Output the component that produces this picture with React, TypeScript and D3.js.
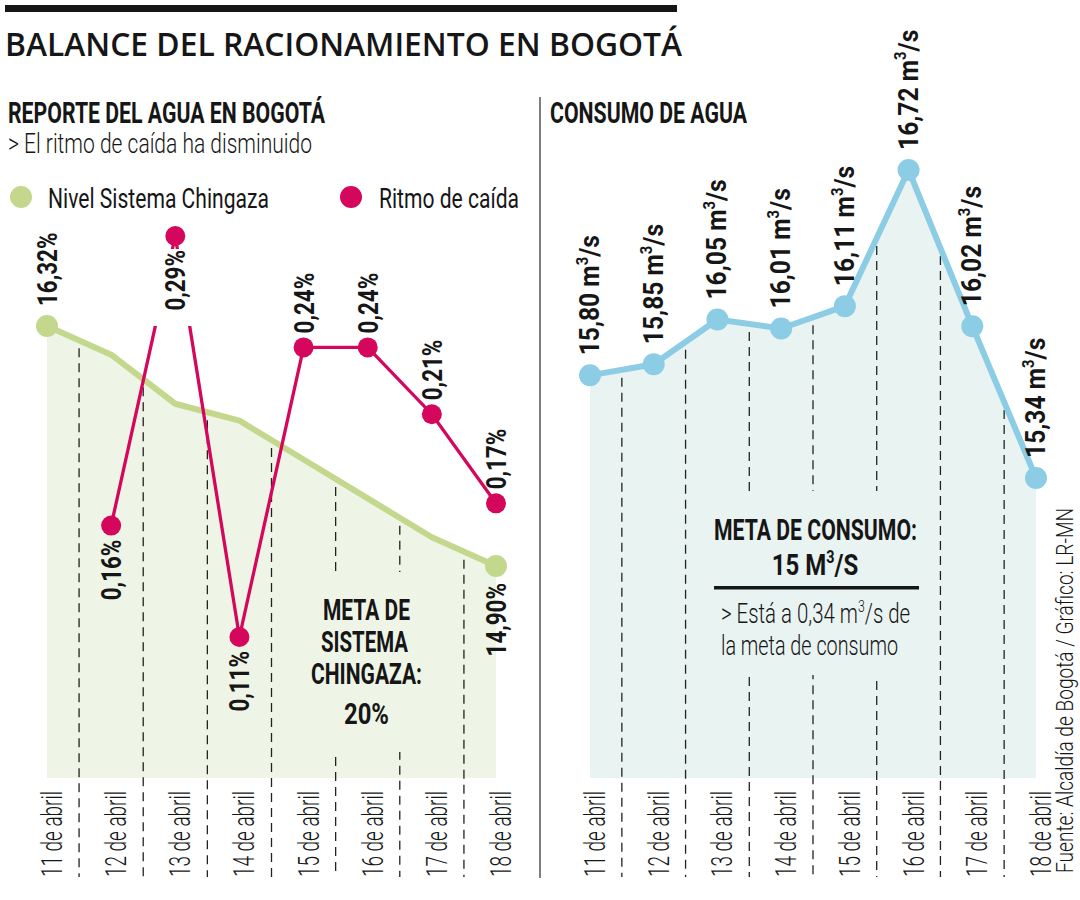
import React from "react";
import * as d3 from "d3";

// Datos
const dates = [
  "11 de abril",
  "12 de abril",
  "13 de abril",
  "14 de abril",
  "15 de abril",
  "16 de abril",
  "17 de abril",
  "18 de abril",
];
const nivelChingaza = [16.32, 16.15, 15.86, 15.76, 15.53, 15.3, 15.07, 14.9];
const ritmoDates = dates.slice(1);
const ritmoCaida = [0.16, 0.29, 0.11, 0.24, 0.24, 0.21, 0.17];
const consumo = [15.8, 15.85, 16.05, 16.01, 16.11, 16.72, 16.02, 15.34];

// label above (false) or below (true) each point
const ritmoBelow = [true, true, true, false, false, false, false];

const FONT = "Roboto, 'Liberation Sans', Arial, sans-serif";
const INK = "#161616";
const GREEN = "#c3d88d";
const GREEN_FILL = "#eff5e6";
const PINK = "#d4075c";
const BLUE = "#8ccde5";
const BLUE_FILL = "#e8f3f2";

const BASE = 778; // bottom of filled areas
const DASH_END = 877;

const xL = d3.scalePoint<string>().domain(dates).range([47, 496]);
const xR = d3.scalePoint<string>().domain(dates).range([590, 1036]);
const yNivel = d3.scaleLinear().domain([14.9, 16.32]).range([566, 326]);
const yRitmo = d3.scaleLinear().domain([0.11, 0.29]).range([637, 236]);
const yConsumo = d3.scaleLinear().domain([15.34, 16.72]).range([478, 170]);

const fmt = (v: number) => d3.format(".2f")(v).replace(".", ",");

// rotated (bottom to top) text, condensed with scaleX
function VText({ x, y, anchor = "start", size, weight = 700, sx = 0.8, children, textLength }: any) {
  return (
    <text
      transform={`translate(${x},${y}) rotate(-90) scale(${sx},1)`}
      textAnchor={anchor}
      fontSize={size}
      fontWeight={weight}
      fontFamily={FONT}
      fill={INK}
      textLength={textLength}
      lengthAdjust={textLength ? "spacingAndGlyphs" : undefined}
    >
      {children}
    </text>
  );
}

function M3s({ size }: { size: number }) {
  return (
    <>
      {" m"}
      <tspan fontSize={size * 0.6} dy={-size * 0.4}>
        3
      </tspan>
      <tspan dy={size * 0.4}>/s</tspan>
    </>
  );
}

function dividers(x: d3.ScalePoint<string>, ys: number[]) {
  return dates.slice(0, -1).map((d, i) => {
    const mx = ((x(d) as number) + (x(dates[i + 1]) as number)) / 2;
    const top = (ys[i] + ys[i + 1]) / 2 + 8;
    return (
      <line
        key={d}
        x1={mx}
        x2={mx}
        y1={top}
        y2={DASH_END}
        stroke="#222"
        strokeWidth={1.3}
        strokeDasharray="9 6"
      />
    );
  });
}

export default function App() {
  const nivelY = nivelChingaza.map((v) => yNivel(v));
  const consumoY = consumo.map((v) => yConsumo(v));

  const areaL = d3
    .area<number>()
    .x((_, i) => xL(dates[i]) as number)
    .y0(BASE)
    .y1((v) => yNivel(v));
  const lineL = d3
    .line<number>()
    .x((_, i) => xL(dates[i]) as number)
    .y((v) => yNivel(v));
  const lineRitmo = d3
    .line<number>()
    .x((_, i) => xL(ritmoDates[i]) as number)
    .y((v) => yRitmo(v));
  const areaR = d3
    .area<number>()
    .x((_, i) => xR(dates[i]) as number)
    .y0(BASE)
    .y1((v) => yConsumo(v));
  const lineR = d3
    .line<number>()
    .x((_, i) => xR(dates[i]) as number)
    .y((v) => yConsumo(v));

  const i13 = ritmoDates.indexOf("13 de abril");

  return (
    <svg width={1080} height={900} style={{ position: "absolute", left: 0, top: 0, background: "#fff" }}>
      {/* cabecera */}
      <rect x={5} y={5} width={672} height={7} fill={INK} />
      <text x={5} y={56} fontFamily="'Open Sans', Roboto, sans-serif" fontWeight={600} fontSize={32} fill={INK} textLength={677} lengthAdjust="spacingAndGlyphs">
        BALANCE DEL RACIONAMIENTO EN BOGOTÁ
      </text>

      {/* panel izquierdo */}
      <text x={8} y={123} fontFamily={FONT} fontWeight={700} fontSize={30} fill={INK} textLength={317} lengthAdjust="spacingAndGlyphs">
        REPORTE DEL AGUA EN BOGOTÁ
      </text>
      <text x={8} y={153} fontFamily={FONT} fontWeight={300} fontSize={27} fill={INK} textLength={304} lengthAdjust="spacingAndGlyphs">
        {"> El ritmo de caída ha disminuido"}
      </text>
      <circle cx={21} cy={197} r={11} fill={GREEN} />
      <text x={48} y={208} fontFamily={FONT} fontWeight={400} fontSize={28} fill={INK} textLength={221} lengthAdjust="spacingAndGlyphs">
        Nivel Sistema Chingaza
      </text>
      <circle cx={351} cy={197} r={11} fill={PINK} />
      <text x={379} y={208} fontFamily={FONT} fontWeight={400} fontSize={28} fill={INK} textLength={140} lengthAdjust="spacingAndGlyphs">
        Ritmo de caída
      </text>

      <path d={areaL(nivelChingaza) as string} fill={GREEN_FILL} />
      {dividers(xL, nivelY)}
      <rect x={300} y={572} width={132} height={180} fill={GREEN_FILL} />
      <path d={lineL(nivelChingaza) as string} fill="none" stroke={GREEN} strokeWidth={6} strokeLinejoin="round" />
      <circle cx={xL(dates[0])} cy={nivelY[0]} r={11} fill={GREEN} />
      <circle cx={xL(dates[7])} cy={nivelY[7]} r={11} fill={GREEN} />
      <VText x={(xL(dates[0]) as number) + 10} y={nivelY[0] - 20} size={28}>
        {fmt(nivelChingaza[0])}%
      </VText>
      <VText x={(xL(dates[7]) as number) + 10} y={nivelY[7] + 17} size={28} anchor="end">
        {fmt(nivelChingaza[7])}%
      </VText>

      <path d={lineRitmo(ritmoCaida) as string} fill="none" stroke={PINK} strokeWidth={3.3} />
      <rect
        x={(xL(ritmoDates[i13]) as number) - 26}
        y={yRitmo(ritmoCaida[i13]) + 13}
        width={52}
        height={77}
        fill="#fff"
      />
      {ritmoCaida.map((v, i) => (
        <circle key={i} cx={xL(ritmoDates[i])} cy={yRitmo(v)} r={10} fill={PINK} />
      ))}
      {ritmoCaida.map((v, i) => (
        <VText
          key={i}
          x={(xL(ritmoDates[i]) as number) + 10}
          y={ritmoBelow[i] ? yRitmo(v) + 14 : yRitmo(v) - 14}
          anchor={ritmoBelow[i] ? "end" : "start"}
          size={28}
        >
          {fmt(v)}%
        </VText>
      ))}

      <g fontFamily={FONT} fontWeight={700} fontSize={30} fill={INK}>
        <text x={323} y={620} textLength={87} lengthAdjust="spacingAndGlyphs">META DE</text>
        <text x={321} y={652} textLength={87} lengthAdjust="spacingAndGlyphs">SISTEMA</text>
        <text x={311} y={684} textLength={111} lengthAdjust="spacingAndGlyphs">CHINGAZA:</text>
        <text x={344} y={724} textLength={45} lengthAdjust="spacingAndGlyphs">20%</text>
      </g>

      {dates.map((d) => (
        <VText key={d} x={(xL(d) as number) + 15} y={DASH_END} size={30} weight={300} sx={0.63}>
          {d}
        </VText>
      ))}

      {/* separador */}
      <line x1={540} x2={540} y1={97} y2={878} stroke="#555" strokeWidth={1.5} />

      {/* panel derecho */}
      <text x={550} y={123} fontFamily={FONT} fontWeight={700} fontSize={30} fill={INK} textLength={197} lengthAdjust="spacingAndGlyphs">
        CONSUMO DE AGUA
      </text>
      <path d={areaR(consumo) as string} fill={BLUE_FILL} />
      {dividers(xR, consumoY)}
      <rect x={700} y={491} width={230} height={184} fill={BLUE_FILL} />
      <path d={lineR(consumo) as string} fill="none" stroke={BLUE} strokeWidth={6} strokeLinejoin="round" />
      {consumo.map((v, i) => (
        <circle key={i} cx={xR(dates[i])} cy={consumoY[i]} r={11} fill={BLUE} />
      ))}
      {consumo.map((v, i) => (
        <VText key={i} x={(xR(dates[i]) as number) + 9} y={consumoY[i] - 20} size={28} sx={0.88}>
          {fmt(v)}
          <M3s size={28} />
        </VText>
      ))}

      <g fontFamily={FONT} fill={INK}>
        <text x={714} y={540} fontWeight={700} fontSize={30} textLength={203} lengthAdjust="spacingAndGlyphs">
          META DE CONSUMO:
        </text>
        <text transform="translate(815,575) scale(0.8,1)" textAnchor="middle" fontWeight={700} fontSize={30}>
          15 M<tspan fontSize={18} dy={-12}>3</tspan>
          <tspan dy={12}>/S</tspan>
        </text>
        <rect x={714} y={586} width={205} height={3.5} fill={INK} />
        <text transform="translate(721,623) scale(0.73,1)" fontWeight={300} fontSize={28}>
          {"> Está a 0,34"}
          <M3s size={28} />
          {" de"}
        </text>
        <text x={721} y={655} fontWeight={300} fontSize={28} textLength={177} lengthAdjust="spacingAndGlyphs">
          la meta de consumo
        </text>
      </g>

      {dates.map((d) => (
        <VText key={d} x={(xR(d) as number) + 15} y={DASH_END} size={30} weight={300} sx={0.63}>
          {d}
        </VText>
      ))}

      <VText x={1073} y={873} size={23} weight={300} sx={1} textLength={365}>
        Fuente: Alcaldía de Bogotá / Gráfico: LR-MN
      </VText>
    </svg>
  );
}
